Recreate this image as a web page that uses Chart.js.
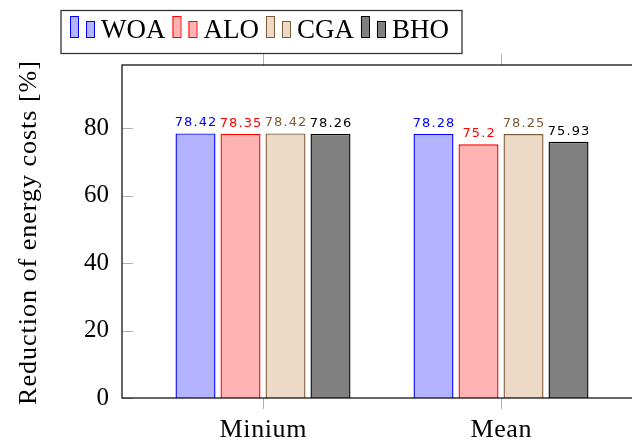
<!DOCTYPE html>
<html>
<head>
<meta charset="utf-8">
<script src="https://cdn.jsdelivr.net/npm/chart.js@4/dist/chart.umd.min.js"></script>
<style>
  html, body { margin: 0; padding: 0; background: #fff; overflow: hidden; }
  #wrap { width: 650px; height: 441px; }
</style>
</head>
<body>
<div id="wrap"><canvas id="chart" width="650" height="441"></canvas></div>
<script>
// data
const categories = ['Minium', 'Mean'];
const seriesNames = ['WOA', 'ALO', 'CGA', 'BHO'];
const woa = [78.42, 78.28];
const alo = [78.35, 75.2];
const cga = [78.42, 78.25];
const bho = [78.26, 75.93];
const yTicks = [0, 20, 40, 60, 80];

const fills   = ['#b3b3ff', '#ffb3b3', '#ecd9c6', '#808080'];
const borders = ['#0000ff', '#ff0000', '#7d5a35', '#000000'];
const labelColors = ['#0000ff', '#ff0000', '#7d5a35', '#000000'];

const SERIF = '"Liberation Serif", "DejaVu Serif", serif';

function toPoints(vals) {
  return vals.map((v, i) => ({ x: i, y: v }));
}

// box, ticks, axis title, value labels, legend
const decor = {
  id: 'decor',
  afterDatasetsDraw(chart) {
    const { ctx, chartArea: a, scales } = chart;
    ctx.save();

    // value labels above bars
    ctx.font = '13px "DejaVu Sans", sans-serif';
    ctx.letterSpacing = '1.1px';
    ctx.textAlign = 'center';
    ctx.textBaseline = 'alphabetic';
    chart.data.datasets.forEach((ds, di) => {
      const meta = chart.getDatasetMeta(di);
      ctx.fillStyle = labelColors[di];
      meta.data.forEach((el, i) => {
        ctx.fillText(String(ds.data[i].y), el.x + 0.6, el.y - 7);
      });
    });

    // x labels
    ctx.fillStyle = '#000';
    ctx.font = '26px ' + SERIF;
    ctx.letterSpacing = '0.6px';
    categories.forEach((c, i) => {
      ctx.fillText(c, scales.x.getPixelForValue(i) + 0.3, 437);
    });
    ctx.letterSpacing = '0px';

    // tick marks
    ctx.strokeStyle = '#b0b0b0';
    ctx.lineWidth = 1;
    ctx.beginPath();
    categories.forEach((c, i) => {
      const x = Math.round(scales.x.getPixelForValue(i)) + 0.5;
      ctx.moveTo(x, a.bottom); ctx.lineTo(x, a.bottom + 11);
      ctx.moveTo(x, a.top); ctx.lineTo(x, a.top - 11);
    });
    yTicks.forEach(v => {
      const y = Math.round(scales.y.getPixelForValue(v)) + 0.5;
      ctx.moveTo(a.left, y); ctx.lineTo(a.left + 11, y);
    });
    ctx.stroke();

    // axis box
    ctx.strokeStyle = '#000';
    ctx.lineWidth = 1.2;
    ctx.strokeRect(a.left, a.top, a.right - a.left, a.bottom - a.top);

    // y axis title
    ctx.fillStyle = '#000';
    ctx.font = '26px ' + SERIF;
    ctx.letterSpacing = '1px';
    ctx.translate(29, (a.top + a.bottom) / 2 + 1);
    ctx.rotate(-Math.PI / 2);
    ctx.textAlign = 'center';
    ctx.textBaseline = 'middle';
    ctx.fillText('Reduction of energy costs [%]', 0, 0);
    ctx.setTransform(1, 0, 0, 1, 0, 0);
    ctx.letterSpacing = '0px';

    // legend
    const lx = 61, ly = 10.5, lh = 43;
    ctx.font = '27px ' + SERIF;
    ctx.textAlign = 'left';
    ctx.textBaseline = 'alphabetic';
    let x = lx + 9;
    seriesNames.forEach((name, i) => {
      ctx.fillStyle = fills[i];
      ctx.strokeStyle = borders[i];
      ctx.lineWidth = 1;
      ctx.fillRect(x, 16, 8, 21);
      ctx.strokeRect(x + 0.5, 16.5, 8, 21);
      ctx.fillRect(x + 16, 21, 8, 16);
      ctx.strokeRect(x + 16.5, 21.5, 8, 16);
      ctx.fillStyle = '#000';
      ctx.fillText(name, x + 31, 38);
      x += 31 + ctx.measureText(name).width + 7;
    });
    ctx.strokeStyle = '#333';
    ctx.lineWidth = 1.3;
    ctx.strokeRect(lx, ly, x - lx + 6, lh);

    ctx.restore();
  }
};

const datasets = [woa, alo, cga, bho].map((vals, i) => ({
  label: seriesNames[i],
  data: toPoints(vals),
  backgroundColor: fills[i],
  borderColor: borders[i],
  borderWidth: 1.4,
  categoryPercentage: 0.7563,
  barPercentage: 0.889
}));

new Chart(document.getElementById('chart'), {
  type: 'bar',
  data: { datasets },
  options: {
    responsive: false,
    animation: false,
    layout: { padding: { top: 65, right: 8, left: 0, bottom: 0 } },
    plugins: { legend: { display: false }, tooltip: { enabled: false } },
    scales: {
      x: {
        type: 'linear',
        offset: false,
        bounds: 'data',
        min: -0.5924,
        max: 1.5924,
        afterBuildTicks: s => { s.ticks = categories.map((c, i) => ({ value: i })); },
        afterFit: s => { s.height = 43; },
        grid: { display: false, drawTicks: false, offset: false },
        border: { display: false },
        ticks: { display: false }
      },
      y: {
        min: 0,
        max: 98.7,
        afterBuildTicks: s => { s.ticks = yTicks.map(v => ({ value: v })); },
        afterFit: s => { s.width = 122; },
        grid: { display: false, drawTicks: false },
        border: { display: false },
        ticks: {
          color: '#000',
          font: { family: SERIF, size: 25 },
          padding: 13
        }
      }
    }
  },
  plugins: [decor]
});
</script>
</body>
</html>
